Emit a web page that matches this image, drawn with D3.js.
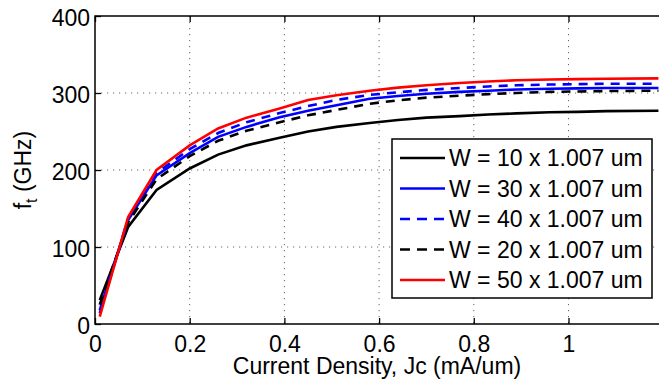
<!DOCTYPE html>
<html>
<head>
<meta charset="utf-8">
<script src="https://cdn.jsdelivr.net/npm/d3@7"></script>
<style>
  body { margin: 0; background: #fff; }
  svg { display: block; font-family: "Liberation Sans", Arial, sans-serif; }
</style>
</head>
<body>
<svg id="chart" width="659" height="382"></svg>
<script>
// current density samples (mA/um)
const jc = [0.01, 0.07, 0.13, 0.2, 0.26, 0.32, 0.39, 0.45, 0.51, 0.58, 0.64, 0.7, 0.77, 0.83, 0.89, 0.96, 1.02, 1.08, 1.19];

// fT (GHz) for each device width
const ftW10 = [31, 126, 174, 202, 220, 232, 242, 250, 256, 261, 265, 268, 270, 272, 273.5, 275, 275.5, 276.5, 277];
const ftW30 = [18, 135, 193, 222, 243, 256, 268.5, 277, 284, 292.5, 296, 299, 301.5, 303, 304.5, 305.5, 306, 306.5, 306.5];
const ftW40 = [14, 137, 196, 227, 248, 262, 274, 283, 291, 297.5, 301, 304, 306.5, 308.5, 310, 311, 311.5, 312, 312];
const ftW20 = [25, 132, 188, 218, 238, 251, 262, 271, 278, 286, 290.5, 294, 296.5, 298.5, 300, 301.5, 302, 302.5, 303];
const ftW50 = [9.5, 139, 200, 232, 254, 268, 280, 291, 297, 303, 307, 310, 313, 315, 316.5, 317.5, 318, 318.5, 319];

const seriesNames = ['W = 10 x 1.007 um', 'W = 30 x 1.007 um', 'W = 40 x 1.007 um', 'W = 20 x 1.007 um', 'W = 50 x 1.007 um'];
const seriesValues = [ftW10, ftW30, ftW40, ftW20, ftW50];
const seriesColors = ['#000000', '#0000ff', '#0000ff', '#000000', '#ff0000'];
const seriesDashed = [false, false, true, true, false];

const xTicks = [0, 0.2, 0.4, 0.6, 0.8, 1];
const yTicks = [0, 100, 200, 300, 400];

const svg = d3.select('#chart');
const plot = { left: 95, top: 16, right: 662, bottom: 324 };

const x = d3.scaleLinear().domain([0, 1.1975]).range([plot.left, plot.right]);
const y = d3.scaleLinear().domain([0, 400]).range([plot.bottom, plot.top]);

svg.append('defs').append('clipPath').attr('id', 'plot-clip')
  .append('rect')
  .attr('x', plot.left).attr('y', plot.top)
  .attr('width', plot.right - plot.left).attr('height', plot.bottom - plot.top);

// dotted grid
const grid = svg.append('g')
  .attr('stroke', '#666')
  .attr('stroke-width', 1)
  .attr('stroke-dasharray', '1.2,4.8');

grid.selectAll('.vgrid')
  .data(xTicks.slice(1))
  .enter()
  .append('line')
  .attr('x1', (d) => x(d)).attr('x2', (d) => x(d))
  .attr('y1', plot.top).attr('y2', plot.bottom);

grid.selectAll('.hgrid')
  .data(yTicks.slice(1, -1))
  .enter()
  .append('line')
  .attr('x1', plot.left).attr('x2', plot.right)
  .attr('y1', (d) => y(d)).attr('y2', (d) => y(d));

// curves
const line = d3.line()
  .x((d, i) => x(jc[i]))
  .y((d) => y(d));

svg.append('g')
  .attr('clip-path', 'url(#plot-clip)')
  .selectAll('path')
  .data(seriesValues)
  .enter()
  .append('path')
  .attr('d', (d) => line(d))
  .attr('fill', 'none')
  .attr('stroke', (d, i) => seriesColors[i])
  .attr('stroke-width', 2.6)
  .attr('stroke-dasharray', (d, i) => (seriesDashed[i] ? '9,7' : null));

// axes
const xAxis = svg.append('g')
  .attr('transform', 'translate(0,' + plot.bottom + ')')
  .call(d3.axisBottom(x).tickValues(xTicks).tickSize(-6).tickFormat(d3.format('~g')));
xAxis.selectAll('text').attr('y', 28).attr('dy', null);

const xTop = svg.append('g')
  .attr('transform', 'translate(0,' + plot.top + ')')
  .call(d3.axisTop(x).tickValues(xTicks).tickSize(-6).tickFormat(''));

const yAxis = svg.append('g')
  .attr('transform', 'translate(' + plot.left + ',0)')
  .call(d3.axisLeft(y).tickValues(yTicks).tickSize(-6));
yAxis.selectAll('text').attr('x', -5).attr('dy', null).attr('y', 9);

[xAxis, xTop, yAxis].forEach((g) => {
  g.select('.domain').remove();
  g.selectAll('line').attr('stroke', '#000').attr('stroke-width', 1.3);
  g.selectAll('text').attr('fill', '#000').style('font-size', '23px')
    .style('font-family', '"Liberation Sans", Arial, sans-serif');
});

// axes frame
svg.append('rect')
  .attr('x', plot.left).attr('y', plot.top)
  .attr('width', plot.right - plot.left).attr('height', plot.bottom - plot.top)
  .attr('fill', 'none')
  .attr('stroke', '#000')
  .attr('stroke-width', 1.5);

// axis titles
svg.append('text')
  .attr('x', (plot.left + 659) / 2)
  .attr('y', 374)
  .attr('text-anchor', 'middle')
  .style('font-size', '23px')
  .text('Current Density, Jc (mA/um)');

const yTitle = svg.append('text')
  .attr('transform', 'translate(31,' + (plot.top + plot.bottom) / 2 + ') rotate(-90)')
  .attr('text-anchor', 'middle')
  .style('font-size', '23px');
yTitle.append('tspan').text('f');
yTitle.append('tspan').attr('dy', 6).style('font-size', '16px').text('t');
yTitle.append('tspan').attr('dy', -6).text(' (GHz)');

// legend
const legend = svg.append('g');
legend.append('rect')
  .attr('x', 392).attr('y', 139)
  .attr('width', 260).attr('height', 159)
  .attr('fill', '#fff')
  .attr('stroke', '#000')
  .attr('stroke-width', 1.5);

const rows = legend.selectAll('.row')
  .data(seriesNames)
  .enter()
  .append('g')
  .attr('transform', (d, i) => 'translate(0,' + (158 + i * 30.5) + ')');

rows.append('line')
  .attr('x1', 400).attr('x2', 445)
  .attr('y1', 0).attr('y2', 0)
  .attr('stroke', (d, i) => seriesColors[i])
  .attr('stroke-width', 2.6)
  .attr('stroke-dasharray', (d, i) => (seriesDashed[i] ? '10,7' : null));

rows.append('text')
  .attr('x', 449)
  .attr('y', 8)
  .style('font-size', '23px')
  .text((d) => d);
</script>
</body>
</html>
